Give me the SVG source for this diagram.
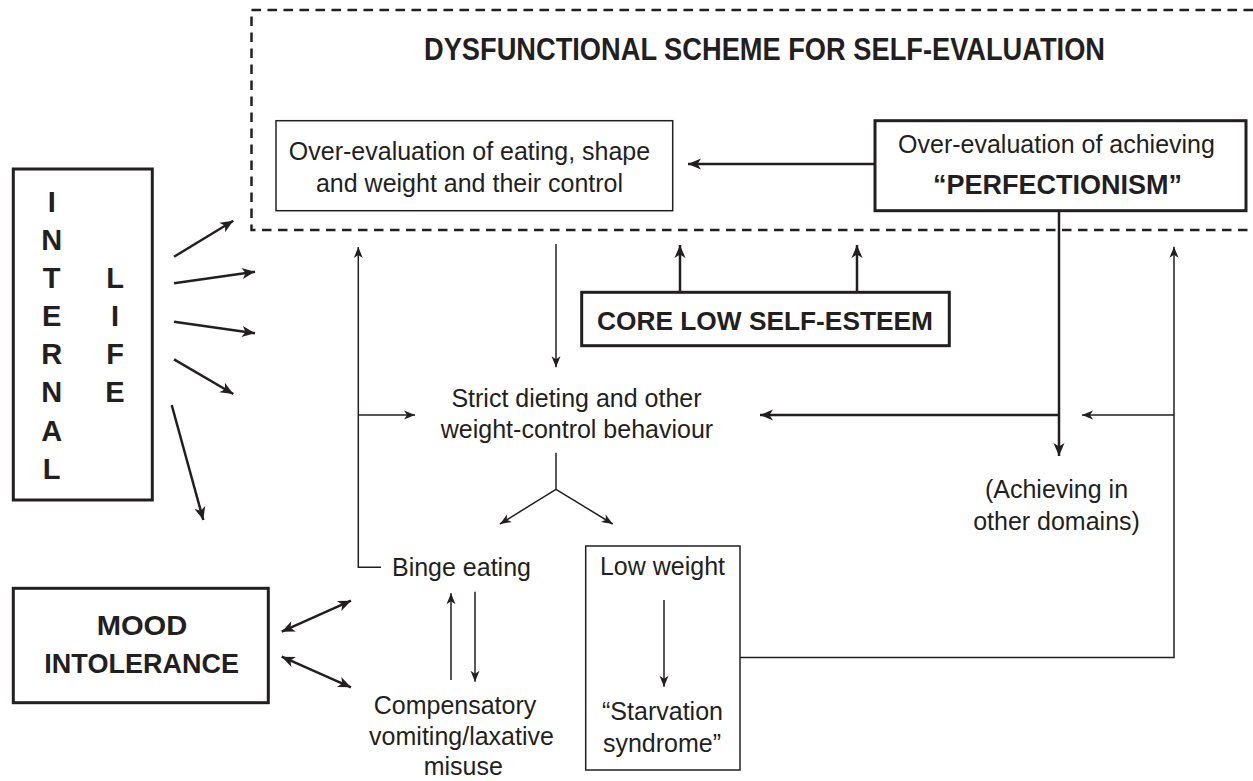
<svg xmlns="http://www.w3.org/2000/svg" width="1253" height="781" viewBox="0 0 1253 781">
<style>
  .t { font-family: "Liberation Sans", Arial, sans-serif; font-size: 25px; fill: #231f20; text-anchor: middle; }
  .b { font-family: "Liberation Sans", Arial, sans-serif; font-weight: bold; fill: #231f20; text-anchor: middle; }
  .thin { fill: none; stroke: #231f20; stroke-width: 1.5; }
  .thinbox { fill: none; stroke: #231f20; stroke-width: 1.5; }
  .thickbox { fill: none; stroke: #231f20; stroke-width: 3; }
  .thk { fill: none; stroke: #231f20; stroke-width: 2.5; }
  .dash { fill: none; stroke: #231f20; stroke-width: 2.5; stroke-dasharray: 9.5 6.5; }
</style>
<defs>
  <marker id="big" viewBox="-14 -7 15 14" refX="0" refY="0" markerWidth="15" markerHeight="14" markerUnits="userSpaceOnUse" orient="auto-start-reverse">
    <path d="M0,0 L-13,-5.5 L-9.5,0 L-13,5.5 Z" fill="#231f20"/>
  </marker>
  <marker id="sm" viewBox="-12 -6 13 12" refX="0" refY="0" markerWidth="13" markerHeight="12" markerUnits="userSpaceOnUse" orient="auto-start-reverse">
    <path d="M0,0 L-11,-4.5 L-8,0 L-11,4.5 Z" fill="#231f20"/>
  </marker>
</defs>
<rect x="0" y="0" width="1253" height="781" fill="#ffffff"/>

<g id="scheme-region">
  <path class="dash" d="M1253,10 H251.5 V230 H1253"/>
  <text class="b" x="764.5" y="60" font-size="31" textLength="681" lengthAdjust="spacingAndGlyphs">DYSFUNCTIONAL SCHEME FOR SELF-EVALUATION</text>
</g>

<g id="overvaluation-eating">
  <rect class="thinbox" x="276" y="120.7" width="396.7" height="90"/>
  <text class="t" x="469.5" y="160">Over-evaluation of eating, shape</text>
  <text class="t" x="469.5" y="191.7">and weight and their control</text>
</g>

<g id="perfectionism">
  <rect class="thickbox" x="875" y="120.7" width="371" height="90"/>
  <text class="t" x="1056.5" y="153">Over-evaluation of achieving</text>
  <text class="b" x="1057.5" y="194" font-size="27">“PERFECTIONISM”</text>
</g>

<g id="core-low-self-esteem">
  <rect class="thickbox" x="581.7" y="292.3" width="367.6" height="53.4"/>
  <text class="b" x="765" y="330" font-size="26.5" textLength="336" lengthAdjust="spacingAndGlyphs">CORE LOW SELF-ESTEEM</text>
</g>

<g id="internal-life">
  <rect class="thickbox" x="13.3" y="169" width="139" height="331"/>
  <g class="b" font-size="29">
    <text x="51.7" y="211.7">I</text>
    <text x="51.7" y="249.5">N</text>
    <text x="51.7" y="287.7">T</text>
    <text x="51.7" y="326">E</text>
    <text x="51.7" y="364">R</text>
    <text x="51.7" y="402.3">N</text>
    <text x="51.7" y="440.5">A</text>
    <text x="51.7" y="479">L</text>
    <text x="115" y="287.7">L</text>
    <text x="115" y="326">I</text>
    <text x="115" y="364">F</text>
    <text x="115" y="402.3">E</text>
  </g>
</g>

<g id="strict-dieting">
  <text class="t" x="576.5" y="406.7">Strict dieting and other</text>
  <text class="t" x="577" y="438.3">weight-control behaviour</text>
</g>

<g id="achieving-other-domains">
  <text class="t" x="1056.5" y="498.3">(Achieving in</text>
  <text class="t" x="1056.5" y="530">other domains)</text>
</g>

<g id="binge-eating">
  <text class="t" x="461.5" y="576">Binge eating</text>
</g>

<g id="compensatory">
  <text class="t" x="455" y="714">Compensatory</text>
  <text class="t" x="461.5" y="745">vomiting/laxative</text>
  <text class="t" x="463.3" y="775">misuse</text>
</g>

<g id="low-weight">
  <rect class="thinbox" x="585.7" y="546" width="154.3" height="224"/>
  <text class="t" x="662.5" y="575">Low weight</text>
  <text class="t" x="662.5" y="720">“Starvation</text>
  <text class="t" x="662" y="751.7">syndrome”</text>
</g>

<g id="mood-intolerance">
  <rect class="thickbox" x="13.3" y="588.3" width="255" height="114.4"/>
  <text class="b" x="142" y="635" font-size="28" textLength="90.6" lengthAdjust="spacingAndGlyphs">MOOD</text>
  <text class="b" x="141.7" y="673.3" font-size="28" textLength="194.7" lengthAdjust="spacingAndGlyphs">INTOLERANCE</text>
</g>

<g id="connectors">
  <!-- thick arrows -->
  <path class="thk" d="M875,164 H688" marker-end="url(#big)"/>
  <path class="thk" d="M680,292 V245" marker-end="url(#big)"/>
  <path class="thk" d="M857,292 V245" marker-end="url(#big)"/>
  <path class="thk" d="M1059,211 V456" marker-end="url(#big)"/>
  <path class="thk" d="M1059,415 H760" marker-end="url(#big)"/>
  <path class="thk" d="M174,256.7 L233.3,220.7" marker-end="url(#big)"/>
  <path class="thk" d="M174,283.3 L255,271.7" marker-end="url(#big)"/>
  <path class="thk" d="M174,321.7 L255,333.3" marker-end="url(#big)"/>
  <path class="thk" d="M174,359.3 L233.3,394" marker-end="url(#big)"/>
  <path class="thk" d="M171.7,405 L203.3,520" marker-end="url(#big)"/>
  <path class="thk" d="M281.7,631.7 L351,600.7" marker-start="url(#big)" marker-end="url(#big)"/>
  <path class="thk" d="M281.7,656.7 L351,687.3" marker-start="url(#big)" marker-end="url(#big)"/>
  <!-- thin arrows -->
  <path class="thin" d="M381,567.3 H358.3 V247" marker-end="url(#sm)"/>
  <path class="thin" d="M358.3,415 H415" marker-end="url(#sm)"/>
  <path class="thin" d="M556,244 V367.3" marker-end="url(#sm)"/>
  <path class="thin" d="M556,452.7 V489.3"/>
  <path class="thin" d="M556,489.3 L500,524" marker-end="url(#sm)"/>
  <path class="thin" d="M556,489.3 L612.7,524" marker-end="url(#sm)"/>
  <path class="thin" d="M451,680 V593.3" marker-end="url(#sm)"/>
  <path class="thin" d="M475,591.7 V681.7" marker-end="url(#sm)"/>
  <path class="thin" d="M664,600 V686.7" marker-end="url(#sm)"/>
  <path class="thin" d="M740,657.5 H1174 V246.7" marker-end="url(#sm)"/>
  <path class="thin" d="M1174,415 H1082" marker-end="url(#sm)"/>
</g>
</svg>
